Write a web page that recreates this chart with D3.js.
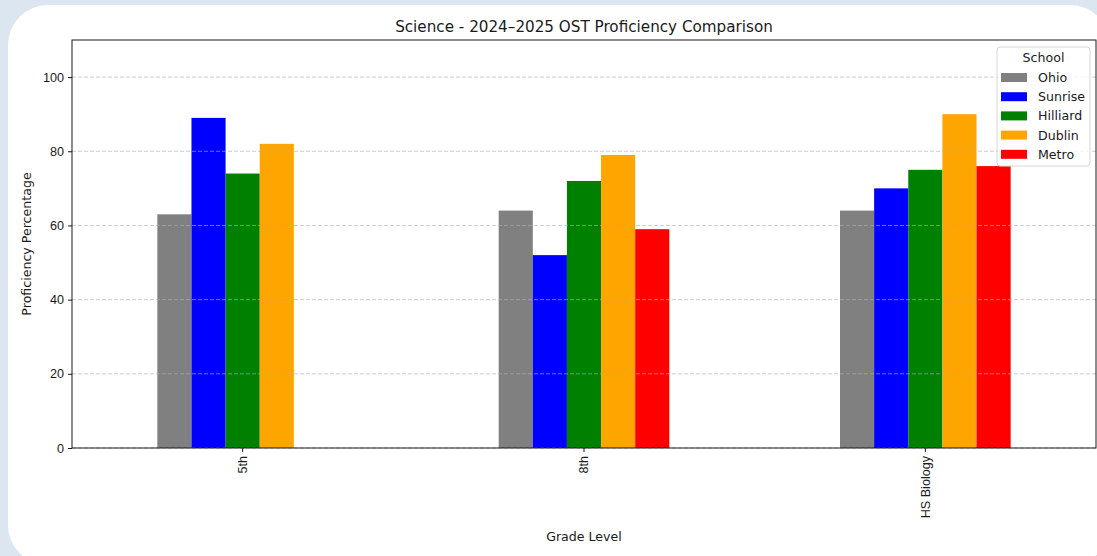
<!DOCTYPE html>
<html>
<head>
<meta charset="utf-8">
<script src="https://cdn.jsdelivr.net/npm/d3@7"></script>
<style>
  html, body { margin: 0; padding: 0; background: #dce6f1; }
  svg { display: block; font-family: "DejaVu Sans", sans-serif; }
</style>
</head>
<body>
<svg id="chart" width="1097" height="556"></svg>
<script>
// grade levels on the x axis
const grades = ['5th', '8th', 'HS Biology']
// schools (legend order)
const schools = ['Ohio', 'Sunrise', 'Hilliard', 'Dublin', 'Metro']
const schoolColors = ['#808080', '#0000ff', '#008000', '#ffa500', '#ff0000']
// proficiency % per school, one value per grade (null = no data)
const ohio = [63, 64, 64]
const sunrise = [89, 52, 70]
const hilliard = [74, 72, 75]
const dublin = [82, 79, 90]
const metro = [null, 59, 76]
const yTicks = [0, 20, 40, 60, 80, 100]

const seriesValues = [ohio, sunrise, hilliard, dublin, metro]

const svg = d3.select('#chart')
const fontSize = '12.6px'
const textColor = '#1a1a1a'

// card background
svg.append('rect')
  .attr('x', 8).attr('y', 5)
  .attr('width', 1102).attr('height', 560)
  .attr('rx', 40).attr('ry', 40)
  .attr('fill', '#ffffff')

const plot = { left: 72, top: 40, right: 1096, bottom: 448 }

const x = d3.scaleBand()
  .domain(grades)
  .range([plot.left, plot.right])
  .paddingInner(0).paddingOuter(0)

const y = d3.scaleLinear()
  .domain([0, 110])
  .range([plot.bottom, plot.top])

// flatten into bar records
const bars = []
grades.forEach((g, gi) => {
  schools.forEach((s, si) => {
    const v = seriesValues[si][gi]
    if (v != null) bars.push({ grade: g, school: s, value: v, color: schoolColors[si] })
  })
})

const inner = d3.scaleBand()
  .domain(schools)
  .range([-x.bandwidth() * 0.25, x.bandwidth() * 0.25])

const gBars = svg.append('g').attr('class', 'bars')
gBars.selectAll('rect')
  .data(bars)
  .join('rect')
  .attr('x', d => x(d.grade) + x.bandwidth() / 2 + inner(d.school))
  .attr('width', inner.bandwidth())
  .attr('y', d => y(d.value))
  .attr('height', d => y(0) - y(d.value))
  .attr('fill', d => d.color)

// horizontal grid, drawn over bars
svg.append('g')
  .selectAll('line')
  .data(yTicks)
  .join('line')
  .attr('x1', plot.left).attr('x2', plot.right)
  .attr('y1', d => y(d)).attr('y2', d => y(d))
  .attr('stroke', '#b0b0b0')
  .attr('stroke-opacity', 0.7)
  .attr('stroke-width', 0.9)
  .attr('stroke-dasharray', '4,2')

// axes
const yAxis = svg.append('g')
  .attr('transform', `translate(${plot.left},0)`)
  .call(d3.axisLeft(y).tickValues(yTicks).tickSize(4).tickPadding(4).tickFormat(d3.format('d')))
const xAxis = svg.append('g')
  .attr('transform', `translate(0,${plot.bottom})`)
  .call(d3.axisBottom(x).tickSize(4).tickPadding(4))

;[yAxis, xAxis].forEach(a => {
  a.select('.domain').remove()
  a.selectAll('.tick line').attr('stroke', '#000').attr('stroke-width', 0.9)
  a.selectAll('text').attr('fill', textColor).style('font-size', fontSize)
})

xAxis.selectAll('.tick text')
  .attr('transform', 'rotate(-90)')
  .attr('text-anchor', 'end')
  .attr('dy', '0.35em')
  .attr('x', -8)
  .attr('y', 0)

// spines
svg.append('rect')
  .attr('x', plot.left).attr('y', plot.top)
  .attr('width', plot.right - plot.left).attr('height', plot.bottom - plot.top)
  .attr('fill', 'none')
  .attr('stroke', '#000')
  .attr('stroke-width', 0.9)

// title and axis labels
svg.append('text')
  .attr('x', (plot.left + plot.right) / 2).attr('y', 32)
  .attr('text-anchor', 'middle')
  .attr('fill', textColor)
  .style('font-size', '15.2px')
  .text('Science - 2024\u20132025 OST Proficiency Comparison')

svg.append('text')
  .attr('x', (plot.left + plot.right) / 2).attr('y', 541)
  .attr('text-anchor', 'middle')
  .attr('fill', textColor)
  .style('font-size', fontSize)
  .text('Grade Level')

svg.append('text')
  .attr('transform', `translate(31,${(plot.top + plot.bottom) / 2}) rotate(-90)`)
  .attr('text-anchor', 'middle')
  .attr('fill', textColor)
  .style('font-size', fontSize)
  .text('Proficiency Percentage')

// legend
const legend = svg.append('g').attr('transform', 'translate(997,47)')
legend.append('rect')
  .attr('width', 93).attr('height', 119)
  .attr('rx', 3)
  .attr('fill', '#ffffff').attr('fill-opacity', 0.8)
  .attr('stroke', '#d6d6d6')
legend.append('text')
  .attr('x', 46.5).attr('y', 15)
  .attr('text-anchor', 'middle')
  .attr('fill', textColor)
  .style('font-size', fontSize)
  .text('School')
const items = legend.selectAll('g.item')
  .data(schools)
  .join('g')
  .attr('class', 'item')
  .attr('transform', (d, i) => `translate(4,${26 + i * 19.2})`)
items.append('rect')
  .attr('width', 26).attr('height', 9)
  .attr('fill', (d, i) => schoolColors[i])
items.append('text')
  .attr('x', 37).attr('y', 9)
  .attr('fill', textColor)
  .style('font-size', fontSize)
  .text(d => d)
</script>
</body>
</html>
